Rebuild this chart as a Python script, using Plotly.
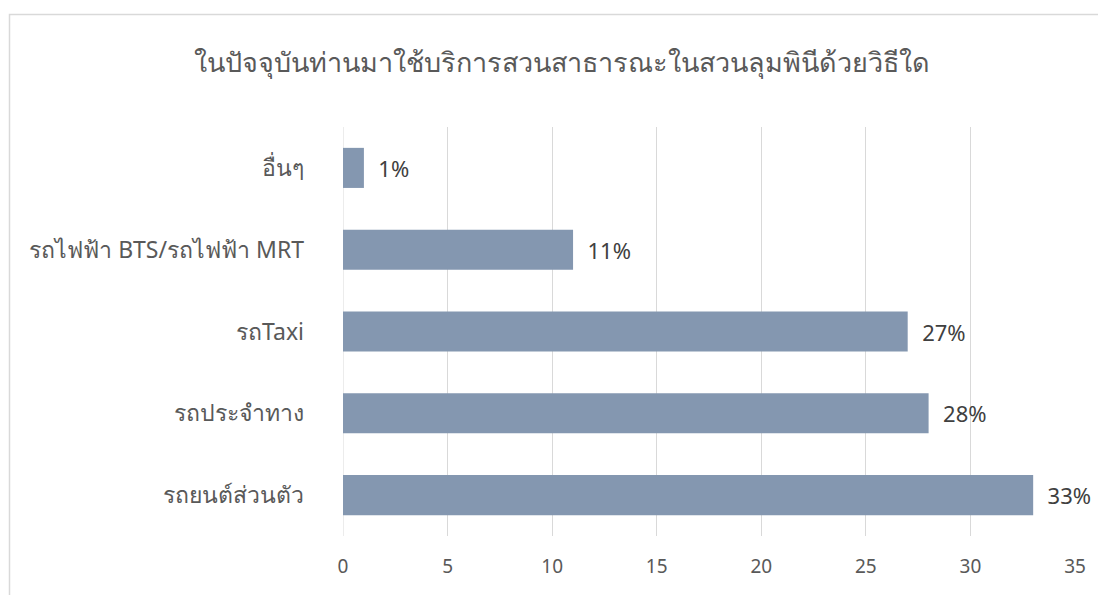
import plotly.graph_objs as go

# data, bottom to top as drawn
categories = ['รถยนต์ส่วนตัว', 'รถประจำทาง', 'รถTaxi', 'รถไฟฟ้า BTS/รถไฟฟ้า MRT', 'อื่นๆ']
values = [33, 28, 27, 11, 1]
labels = ['33%', '28%', '27%', '11%', '1%']
x_ticks = [0, 5, 10, 15, 20, 25, 30, 35]

# the page body adds an 8px margin, so the figure is 8px smaller each way
W, H = 1098, 587
ml, mr, mt, mb = 335, 31, 119, 59
pw, ph = W - ml - mr, H - mt - mb

fig = go.Figure(go.Bar(
    y=categories,
    x=values,
    orientation='h',
    marker=dict(color='#8497B0', line=dict(width=0)),
    width=0.49,
    text=['\u00a0\u00a0' + t for t in labels],
    textposition='outside',
    textfont=dict(size=22, color='#404040'),
    cliponaxis=False,
))

fig.update_layout(
    width=W, height=H,
    margin=dict(l=ml, r=mr, t=mt, b=mb),
    paper_bgcolor='white',
    plot_bgcolor='white',
    font=dict(family='Noto Sans, sans-serif', color='#595959'),
    showlegend=False,
    title=dict(
        text='ในปัจจุบันท่านมาใช้บริการสวนสาธารณะในสวนลุมพินีด้วยวิธีใด',
        x=554 / W, xanchor='center', xref='container',
        y=1 - 55 / H, yanchor='middle', yref='container',
        font=dict(size=27, color='#595959'),
    ),
    xaxis=dict(
        range=[0, 35], tickvals=x_ticks,
        showgrid=True, gridcolor='#D9D9D9', gridwidth=1,
        zeroline=False, showline=False,
        ticks='', ticklabelstandoff=17,
        tickfont=dict(size=19, color='#595959'),
    ),
    yaxis=dict(
        showgrid=False, zeroline=False, showline=False,
        ticks='', ticklabelstandoff=38,
        tickfont=dict(size=23, color='#595959'),
    ),
)

# zero line in light grey
fig.add_shape(type='line', xref='x', yref='paper', x0=0, x1=0, y0=0, y1=1,
              line=dict(color='#D9D9D9', width=1), layer='below')

# chart border (runs past the picture on the right and bottom)
fig.add_shape(type='rect', xref='paper', yref='paper',
              x0=(1.5 - ml) / pw, x1=(W + 20 - ml) / pw,
              y0=-(mb + 20) / ph, y1=1 + (mt - 6.5) / ph,
              line=dict(color='#D9D9D9', width=1.5), fillcolor='rgba(0,0,0,0)')

fig.write_html('out.html')
